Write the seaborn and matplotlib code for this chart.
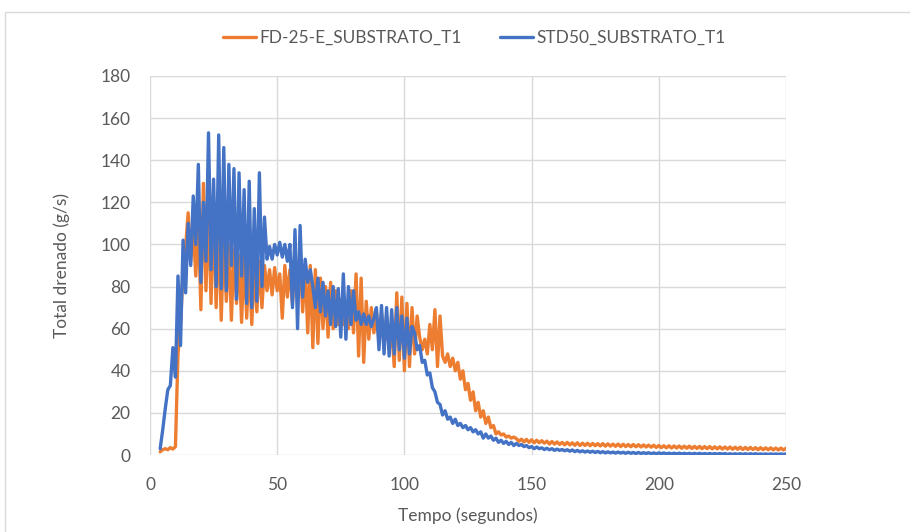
import numpy as np
import pandas as pd
import seaborn as sns
import matplotlib.pyplot as plt
from matplotlib.patches import Rectangle
from matplotlib.lines import Line2D

# Sampling: one reading per second, from t = 4 s to t = 250 s
t_start, t_end = 4, 250
tiempo = np.arange(t_start, t_end + 1)

serie_fd = "FD-25-E_SUBSTRATO_T1"
serie_std = "STD50_SUBSTRATO_T1"

# Drained flow (g/s) for FD-25-E substrate
fd25 = [
    1.5, 2.5, 3.0, 2.5, 3.5, 2.8, 4.0, 48, 62, 88,
    99, 115, 92, 108, 85, 112, 69, 129, 78, 118,
    72, 120, 70, 110, 64, 105, 73, 100, 64, 98,
    72, 95, 63, 96, 65, 92, 62, 90, 68, 92,
    70, 90, 78, 88, 76, 89, 78, 86, 65, 90,
    75, 88, 72, 92, 75, 95, 68, 90, 58, 90,
    51, 88, 53, 84, 60, 80, 56, 82, 60, 78,
    62, 74, 62, 72, 60, 78, 58, 86, 47, 84,
    44, 73, 55, 70, 58, 68, 55, 67, 52, 66,
    50, 60, 42, 77, 45, 75, 40, 72, 42, 70,
    48, 66, 56, 50, 55, 48, 62, 50, 69, 42,
    66, 47, 44, 48, 42, 46, 40, 44, 36, 40,
    31, 34, 26, 30, 21, 25, 18, 21, 15, 18,
    13, 14, 10, 11, 9.5, 10, 8.5, 9, 8, 8.5,
    7.8, 6.5, 7.5, 6.2, 7.4, 6, 7.2, 5.8, 7, 5.8,
    6.8, 5.6, 6.6, 5.2, 6.4, 5.2, 6.2, 5, 6, 4.8,
    6, 4.8, 5.8, 4.6, 5.8, 4.5, 5.6, 4.5, 5.6, 4.4,
    5.5, 4.4, 5.4, 4.3, 5.4, 4.2, 5.3, 4.2, 5.2, 4.1,
    5.2, 4, 5.1, 4, 5, 3.9, 5, 3.9, 4.9, 3.8,
    4.8, 3.8, 4.7, 3.7, 4.6, 3.6, 4.5, 3.5, 4.4, 3.4,
    4.4, 3.3, 4.3, 3.3, 4.3, 3.2, 4.2, 3.2, 4.2, 3.1,
    4.1, 3.1, 4.1, 3, 4, 3, 4, 2.9, 3.9, 2.9,
    3.9, 2.8, 3.8, 2.8, 3.8, 2.7, 3.7, 2.7, 3.7, 2.6,
    3.6, 2.6, 3.6, 2.6, 3.5, 2.5, 3.5, 2.5, 3.4, 2.5,
    3.4, 2.4, 3.3, 2.4, 3.3, 2.4, 3.2,
]

# Drained flow (g/s) for STD50 substrate
std50 = [
    3, 12, 22, 31, 33, 51, 37, 85, 52, 102,
    77, 110, 90, 123, 100, 138, 82, 120, 92, 153,
    88, 131, 80, 152, 79, 146, 78, 138, 90, 136,
    74, 134, 85, 126, 72, 130, 70, 117, 73, 134,
    80, 113, 93, 99, 93, 100, 95, 101, 94, 100,
    92, 100, 70, 107, 60, 109, 75, 93, 82, 88,
    80, 70, 84, 68, 82, 66, 78, 62, 80, 61,
    79, 56, 86, 55, 80, 62, 78, 64, 68, 62,
    67, 62, 66, 61, 65, 70, 50, 71, 48, 70,
    47, 69, 48, 70, 50, 66, 46, 65, 48, 61,
    58, 50, 52, 44, 45, 38, 39, 32, 30, 25,
    24, 19, 21, 17, 18, 15, 17, 14, 15, 13,
    14, 12, 13, 11, 12, 10, 11, 8, 10, 8,
    9, 7, 8, 6, 7, 5.5, 6.5, 5, 6, 4.5,
    5.5, 4.5, 5, 4, 4.5, 3.5, 4, 3, 3.8, 3,
    3.4, 2.6, 3.2, 2.5, 3, 2.2, 2.8, 2.2, 2.6, 2,
    2.5, 1.8, 2.4, 1.6, 2.2, 1.5, 2, 1.4, 1.9, 1.3,
    1.8, 1.2, 1.7, 1.1, 1.6, 1, 1.5, 1, 1.4, 0.9,
    1.4, 0.9, 1.3, 0.8, 1.3, 0.8, 1.2, 0.7, 1.2, 0.7,
    1.1, 0.7, 1.1, 0.6, 1.0, 0.6, 1.0, 0.6, 1.0, 0.5,
    0.9, 0.5, 0.9, 0.5, 0.9, 0.5, 0.8, 0.5, 0.8, 0.4,
    0.8, 0.4, 0.8, 0.4, 0.7, 0.4, 0.7, 0.4, 0.7, 0.4,
    0.7, 0.4, 0.7, 0.3, 0.6, 0.3, 0.6, 0.3, 0.6, 0.3,
    0.6, 0.3, 0.6, 0.3, 0.6, 0.3, 0.5, 0.3, 0.5, 0.3,
    0.5, 0.3, 0.5, 0.3, 0.5, 0.3, 0.5,
]

x_ticks = [0, 50, 100, 150, 200, 250]
y_ticks = [0, 20, 40, 60, 80, 100, 120, 140, 160, 180]

colores = {serie_fd: "#ED7D31", serie_std: "#4472C4"}
gris_texto = "#595959"
gris_rejilla = "#D9D9D9"

df = pd.concat([
    pd.DataFrame({"Tempo": tiempo, "Total": fd25, "Serie": serie_fd}),
    pd.DataFrame({"Tempo": tiempo, "Total": std50, "Serie": serie_std}),
])

sns.set_style("white")
plt.rcParams["font.family"] = ["Lato", "DejaVu Sans"]

fig = plt.figure(figsize=(9.1, 5.32), dpi=100)
ax = fig.add_axes([150 / 910, 1 - 455 / 532, 636 / 910, 379 / 532])

sns.lineplot(data=df, x="Tempo", y="Total", hue="Serie", palette=colores,
             linewidth=2.4, ax=ax, legend=False, zorder=3)

ax.set_xlim(0, 250)
ax.set_ylim(0, 180)
ax.set_xticks(x_ticks)
ax.set_yticks(y_ticks)
ax.grid(True, color=gris_rejilla, linewidth=1.0)
ax.set_axisbelow(True)
for s in ax.spines.values():
    s.set_visible(False)
ax.tick_params(axis="both", length=0, labelsize=12.5, colors=gris_texto)
ax.tick_params(axis="x", pad=16)
ax.tick_params(axis="y", pad=14)
ax.set_xlabel("Tempo (segundos)", fontsize=12.5, color=gris_texto, labelpad=10)
ax.set_ylabel("Total drenado (g/s)", fontsize=12.5, color=gris_texto, labelpad=22)

handles = [Line2D([], [], color=colores[serie_fd], linewidth=2.4),
           Line2D([], [], color=colores[serie_std], linewidth=2.4)]
fig.legend(handles, [serie_fd, serie_std], loc="center",
           bbox_to_anchor=(474 / 910, 1 - 38 / 532), ncol=2, frameon=False,
           fontsize=12.5, labelcolor=gris_texto, handlelength=1.9,
           handletextpad=0.2, columnspacing=2.2)

# Chart area border
fig.add_artist(Rectangle((5 / 910, -0.2), 1.2, 1.2 - 12 / 532,
                         transform=fig.transFigure, fill=False,
                         edgecolor=gris_rejilla, linewidth=1.0))

fig.savefig("out.png", dpi=100, facecolor="white")
